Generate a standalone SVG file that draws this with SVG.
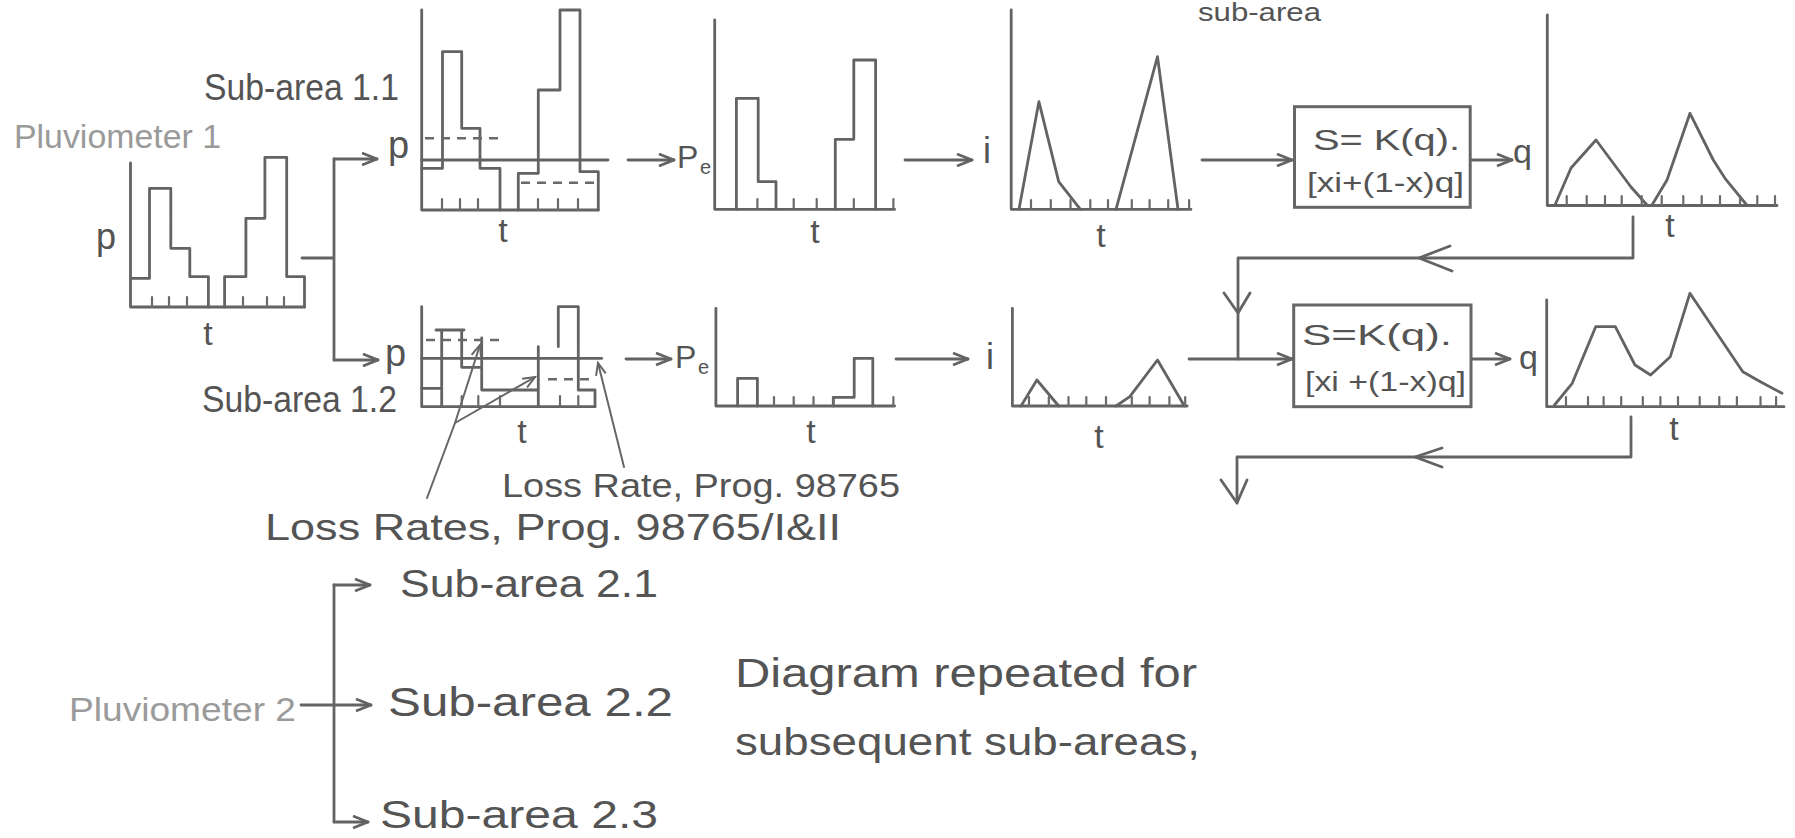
<svg xmlns="http://www.w3.org/2000/svg" width="1795" height="838" viewBox="0 0 1795 838">
<defs>
<style>
.ln{fill:none;stroke:#636363;stroke-width:2.8;stroke-linecap:round;stroke-linejoin:round}
.tk{fill:none;stroke:#6a6a6a;stroke-width:2.2;stroke-linecap:round}
.ds{fill:none;stroke:#6a6a6a;stroke-width:2.4;stroke-dasharray:9 7}
.ld{fill:none;stroke:#666;stroke-width:2;stroke-linecap:round;stroke-linejoin:round}
.tx{font-family:"Liberation Sans",Arial,sans-serif;fill:#545454}
.lt{fill:#9a9a9a}
.bx{fill:none;stroke:#666;stroke-width:3}
</style>
<marker id="ah" markerUnits="userSpaceOnUse" markerWidth="22" markerHeight="18" refX="18" refY="9" orient="auto">
<path d="M3,3 L18,9 L3,15" fill="none" stroke="#636363" stroke-width="2.8" stroke-linejoin="round"/>
</marker>
<marker id="as" markerUnits="userSpaceOnUse" markerWidth="18" markerHeight="14" refX="15" refY="7" orient="auto">
<path d="M3,2 L15,7 L3,12" fill="none" stroke="#666" stroke-width="2"/>
</marker>
</defs>
<rect width="1795" height="838" fill="#ffffff"/>

<g id="top-note">
<text class="tx" x="1198" y="21" font-size="26" textLength="123" lengthAdjust="spacingAndGlyphs">sub-area</text>
</g>

<g id="pluviometer-1">
<text class="tx lt" x="14" y="148" font-size="34" textLength="207" lengthAdjust="spacingAndGlyphs">Pluviometer 1</text>
<path class="ln" d="M130.5,163 V307 H304.5"/>
<path class="ln" d="M130.5,278.3 H149.5 V188.3 H170.8 V248.3 H189.8 V276.7 H208.4 V307 M224.6,307 V276.7 H245.9 V218.3 H264.9 V157.3 H286.7 V276.7 H304.5 V307"/>
<path class="tk" d="M152,297 V307 M169,297 V307 M187,297 V307 M243,297 V307 M267,297 V307 M284,297 V307"/>
<text class="tx" x="96" y="249" font-size="36">p</text>
<text class="tx" x="208" y="345" font-size="34" text-anchor="middle">t</text>
</g>

<g id="sub-area-1-1">
<text class="tx" x="204" y="100" font-size="36" textLength="195" lengthAdjust="spacingAndGlyphs">Sub-area 1.1</text>
<text class="tx" x="388" y="158" font-size="38">p</text>
<path class="ln" d="M421.7,10 V210 H598.3"/>
<path class="ln" d="M421.7,160 H608"/>
<path class="ln" d="M421.7,168.3 H442.5 V51.7 H461.7 V128.3 H480 V168.3 H500 V210 M518.3,210 V173.3 H538.3 V90 H560 V10 H580 V171.7 H598.3 V210"/>
<path class="ds" d="M425,138.3 H505 M521,182.7 H595"/>
<path class="tk" d="M442,199 V210 M460,199 V210 M478,199 V210 M538,199 V210 M558,199 V210 M578,199 V210"/>
<text class="tx" x="503" y="242" font-size="34" text-anchor="middle">t</text>
</g>

<g id="pe-1">
<text class="tx" x="677" y="168" font-size="32">P</text>
<text class="tx" x="700" y="174" font-size="20">e</text>
<path class="ln" d="M714.7,20 V209.3 H894.6"/>
<path class="ln" d="M736.4,209.3 V98.3 H758.2 V181.7 H776 V209.3 M835.3,209.3 V139.3 H853.8 V60 H875.6 V209.3"/>
<path class="tk" d="M757.4,199 V209 M793.7,199 V209 M816.7,199 V209 M853.8,199 V209 M893.4,199 V209"/>
<text class="tx" x="815" y="243" font-size="34" text-anchor="middle">t</text>
</g>

<g id="i-1">
<text class="tx" x="983" y="163" font-size="36">i</text>
<path class="ln" d="M1011.2,10 V209.3 H1191"/>
<path class="ln" d="M1019,209.3 L1038.9,101.7 L1058.7,181.7 L1080.4,209.3 M1116,209.3 L1157.5,56.7 L1178,209.3"/>
<path class="tk" d="M1031,200 V209 M1050.8,200 V209 M1070.5,200 V209 M1090.3,200 V209 M1108,200 V209 M1131.8,200 V209 M1149.6,200 V209 M1168.2,200 V209 M1189.1,200 V209"/>
<text class="tx" x="1101" y="247" font-size="34" text-anchor="middle">t</text>
</g>

<g id="routing-box-1">
<rect class="bx" x="1294.5" y="106.7" width="175.7" height="100.6"/>
<text class="tx" x="1313" y="150" font-size="30" textLength="147" lengthAdjust="spacingAndGlyphs">S= K(q).</text>
<text class="tx" x="1307" y="192" font-size="27" textLength="157" lengthAdjust="spacingAndGlyphs">[xi+(1-x)q]</text>
</g>

<g id="q-1">
<text class="tx" x="1513" y="163" font-size="34">q</text>
<path class="ln" d="M1547.3,15 V205.5 H1777"/>
<path class="ln" d="M1555,205 L1571,168 L1596,140 L1631,187 L1647,205 M1652,205 L1667,180 L1690,113.3 L1713.3,160 L1725,178.3 L1746.7,205"/>
<path class="tk" d="M1566.7,196 V205 M1586.7,196 V205 M1605,196 V205 M1621.7,196 V205 M1641.7,196 V205 M1661.7,196 V205 M1683.3,196 V205 M1701.7,196 V205 M1720,196 V205 M1740,196 V205 M1757.3,196 V205 M1775,196 V205"/>
<text class="tx" x="1670" y="237" font-size="34" text-anchor="middle">t</text>
</g>

<g id="sub-area-1-2">
<text class="tx" x="202" y="412" font-size="36" textLength="195" lengthAdjust="spacingAndGlyphs">Sub-area 1.2</text>
<text class="tx" x="385" y="366" font-size="38">p</text>
<path class="ln" d="M421.7,306.7 V406.7 H595"/>
<path class="ln" d="M421.7,358.3 H601.7"/>
<path class="ln" d="M421.7,388.3 H441.7 M441.7,406.7 V330 M436,330 H464 M461.7,330 V367.3 H481.7 M481.7,338 V390 H538.3 M538.3,346.7 V406.7 M558.3,346.7 V306.7 H578.3 V390 H595 V406.7"/>
<path class="ds" d="M426,340 H500 M548,379.3 H592"/>
<path class="tk" d="M461.7,396 V406 M478.3,396 V406 M500,396 V406 M560,396 V406 M578.3,396 V406"/>
<text class="tx" x="522" y="443" font-size="34" text-anchor="middle">t</text>
</g>

<g id="pe-2">
<text class="tx" x="675" y="368" font-size="32">P</text>
<text class="tx" x="698" y="374" font-size="20">e</text>
<path class="ln" d="M715.9,308.3 V406 H894.6"/>
<path class="ln" d="M737.6,406 V378.3 H757.4 V406 M833.3,406 V397.3 H854.2 V358.3 H872.8 V406"/>
<path class="tk" d="M774,397 V406 M793.7,397 V406 M813.5,397 V406 M833.3,397 V406 M893.4,397 V406"/>
<text class="tx" x="811" y="443" font-size="34" text-anchor="middle">t</text>
</g>

<g id="i-2">
<text class="tx" x="986" y="369" font-size="36">i</text>
<path class="ln" d="M1012.4,308.3 V406 H1187.2"/>
<path class="ln" d="M1021,406 L1036.9,380 L1058.7,406 M1116,406 L1129.8,396.7 L1157.5,360 L1184.4,406"/>
<path class="tk" d="M1029,397 V406 M1048.8,397 V406 M1068.5,397 V406 M1086.3,397 V406 M1106,397 V406 M1131.8,397 V406 M1149.6,397 V406 M1169.4,397 V406 M1185.2,397 V406"/>
<text class="tx" x="1099" y="448" font-size="34" text-anchor="middle">t</text>
</g>

<g id="routing-box-2">
<rect class="bx" x="1293.7" y="305" width="177.3" height="101.7"/>
<text class="tx" x="1302" y="345" font-size="30" textLength="150" lengthAdjust="spacingAndGlyphs">S=K(q).</text>
<text class="tx" x="1305" y="391" font-size="27" textLength="161" lengthAdjust="spacingAndGlyphs">[xi +(1-x)q]</text>
</g>

<g id="q-2">
<text class="tx" x="1519" y="369" font-size="34">q</text>
<path class="ln" d="M1546.7,300 V406.7 H1784"/>
<path class="ln" d="M1554.5,405 L1572.2,383.3 L1595.7,326.7 L1615.3,326.7 L1635,365 L1650.6,375 L1670.3,356.7 L1689.9,293.3 L1742.8,371.7 L1760.4,381.7 L1782,393.3"/>
<path class="tk" d="M1566,397 V406 M1588,397 V406 M1603.6,397 V406 M1621.2,397 V406 M1642.8,397 V406 M1660.4,397 V406 M1678,397 V406 M1699.7,397 V406 M1719.3,397 V406 M1736.9,397 V406 M1760.5,397 V406 M1776.1,397 V406"/>
<text class="tx" x="1674" y="440" font-size="34" text-anchor="middle">t</text>
</g>

<g id="loss-rate-labels">
<text class="tx" x="502" y="497" font-size="34" textLength="398" lengthAdjust="spacingAndGlyphs">Loss Rate, Prog. 98765</text>
<text class="tx" x="265" y="540" font-size="36" textLength="576" lengthAdjust="spacingAndGlyphs">Loss Rates, Prog. 98765/I&amp;II</text>
</g>

<g id="pluviometer-2">
<text class="tx lt" x="69" y="721" font-size="34" textLength="227" lengthAdjust="spacingAndGlyphs">Pluviometer 2</text>
</g>
<g id="sub-area-2-1">
<text class="tx" x="400" y="597" font-size="38" textLength="258" lengthAdjust="spacingAndGlyphs">Sub-area 2.1</text>
</g>
<g id="sub-area-2-2">
<text class="tx" x="388" y="716" font-size="40" textLength="285" lengthAdjust="spacingAndGlyphs">Sub-area 2.2</text>
</g>
<g id="sub-area-2-3">
<text class="tx" x="380" y="828" font-size="38" textLength="278" lengthAdjust="spacingAndGlyphs">Sub-area 2.3</text>
</g>
<g id="note">
<text class="tx" x="735" y="687" font-size="40" textLength="462" lengthAdjust="spacingAndGlyphs">Diagram repeated for</text>
<text class="tx" x="735" y="755" font-size="38" textLength="465" lengthAdjust="spacingAndGlyphs">subsequent sub-areas,</text>
</g>

<g id="connectors">
<path class="ln" d="M302,258 H334 M334,159 V360"/>
<path class="ln" d="M334,159 H377" marker-end="url(#ah)"/>
<path class="ln" d="M334,360 H378" marker-end="url(#ah)"/>
<path class="ln" d="M628,160 H674" marker-end="url(#ah)"/>
<path class="ln" d="M905,160 H972" marker-end="url(#ah)"/>
<path class="ln" d="M1202,160 H1292" marker-end="url(#ah)"/>
<path class="ln" d="M1472,160 H1512" marker-end="url(#ah)"/>
<path class="ln" d="M1633,217 V258 H1238 V359"/>
<path class="ln" d="M1450,246 L1419,258 L1452,271 M1224,293 L1238,313 L1250,293"/>
<path class="ln" d="M1189,359 H1292" marker-end="url(#ah)"/>
<path class="ln" d="M626,359 H671" marker-end="url(#ah)"/>
<path class="ln" d="M896,359 H968" marker-end="url(#ah)"/>
<path class="ln" d="M1472,359 H1510" marker-end="url(#ah)"/>
<path class="ln" d="M1631,417 V457 H1237 V503"/>
<path class="ln" d="M1442,448 L1415,457 L1442,467 M1221,480 L1237,503 L1247,480"/>
<path class="ld" d="M427,498 L455,423 L480,345" marker-end="url(#as)"/>
<path class="ld" d="M455,423 L535,377" marker-end="url(#as)"/>
<path class="ld" d="M624,467 L598,363" marker-end="url(#as)"/>
<path class="ln" d="M301,705 H371" marker-end="url(#ah)"/>
<path class="ln" d="M334,585 V822"/>
<path class="ln" d="M334,585 H370" marker-end="url(#ah)"/>
<path class="ln" d="M334,822 H368" marker-end="url(#ah)"/>
</g>
</svg>
